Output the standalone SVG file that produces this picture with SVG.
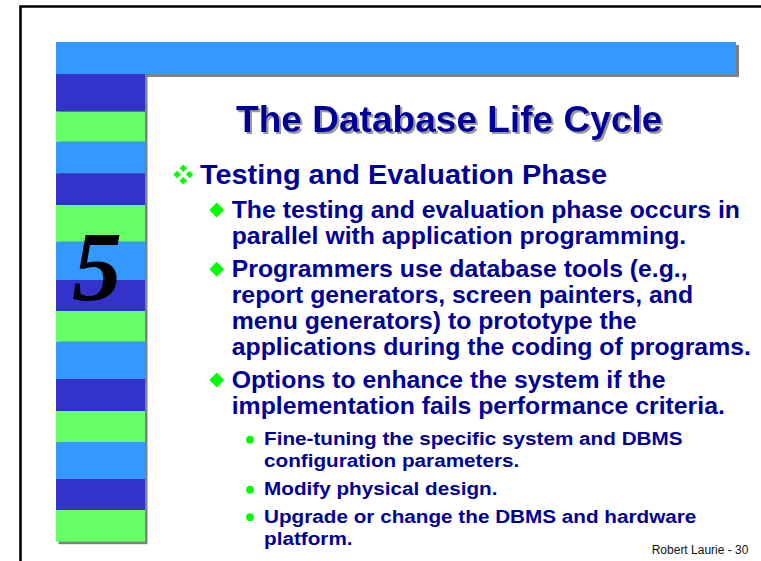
<svg xmlns="http://www.w3.org/2000/svg" width="761" height="561" viewBox="0 0 761 561">
  <defs>
    <style>
      .txt{font-family:"Liberation Sans",Arial,sans-serif;font-weight:bold;fill:#000099}
      .title{font-size:36px}
      .l1{font-size:27px}
      .l2{font-size:23px}
      .l3{font-size:19px}
      .foot{font-family:"Liberation Sans",Arial,sans-serif;font-size:12px;fill:#111}
      .shadow{fill:#808080}
      .bullet{fill:#00FF00}
      .dk{fill:#3333CC}
      .gr{fill:#66FF66}
      .lb{fill:#3399FF}
    </style>
    <!-- grey drop shadow for the title -->
    <filter id="drop" x="-5%" y="-20%" width="110%" height="150%">
      <feOffset in="SourceAlpha" dx="2" dy="2" result="off"/>
      <feFlood flood-color="#999999"/>
      <feComposite in2="off" operator="in" result="sh"/>
      <feMerge>
        <feMergeNode in="sh"/>
        <feMergeNode in="SourceGraphic"/>
      </feMerge>
    </filter>
    <polygon id="diamond" points="0,-7.5 7.3,0 0,7.5 -7.3,0"/>
    <polygon id="minidiamond" points="0,-3.8 3.8,0 0,3.8 -3.8,0"/>
  </defs>

  <rect width="761" height="561" fill="#FFFFFF"/>

  <!-- slide frame -->
  <g id="frame">
    <path d="M20.5,561 V6.5 H761" fill="none" stroke="#000" stroke-width="2.6"/>
  </g>

  <!-- header bar and striped side column, each with a drop shadow -->
  <g id="header-bar">
    <rect class="shadow" x="59" y="45" width="680" height="32"/>
  </g>
  <g id="side-column">
    <rect class="shadow" x="58.5" y="76.5" width="89" height="467.7"/>
    <rect class="dk" x="56" y="74" width="89" height="37.7"/>
    <rect class="gr" x="56" y="111.7" width="89" height="30"/>
    <rect class="lb" x="56" y="141.7" width="89" height="31.6"/>
    <rect class="dk" x="56" y="173.3" width="89" height="31.7"/>
    <rect class="gr" x="56" y="205" width="89" height="36.7"/>
    <rect class="lb" x="56" y="241.7" width="89" height="38.3"/>
    <rect class="dk" x="56" y="280" width="89" height="31"/>
    <rect class="gr" x="56" y="311" width="89" height="30.7"/>
    <rect class="lb" x="56" y="341.7" width="89" height="37.3"/>
    <rect class="dk" x="56" y="379" width="89" height="32"/>
    <rect class="gr" x="56" y="411" width="89" height="31"/>
    <rect class="lb" x="56" y="442" width="89" height="37"/>
    <rect class="dk" x="56" y="479" width="89" height="31"/>
    <rect class="gr" x="56" y="510" width="89" height="31.7"/>
  </g>
  <g id="header-bar-face">
    <rect class="lb" x="56" y="42" width="680" height="32"/>
  </g>

  <!-- chapter numeral -->
  <g id="numeral">
    <text x="72" y="299.5" font-family="'Liberation Serif','Times New Roman',serif" font-weight="bold" font-style="italic" font-size="100" fill="#000">5</text>
  </g>

  <!-- title -->
  <g id="title" filter="url(#drop)">
    <text class="txt title" transform="translate(236 131.7) scale(1.03 1)">The Database Life Cycle</text>
  </g>

  <!-- level 1 -->
  <g id="phase-heading">
    <g class="bullet" transform="translate(183.3 174.5)">
      <use href="#minidiamond" x="0" y="-6.2"/>
      <use href="#minidiamond" x="-6.2" y="0"/>
      <use href="#minidiamond" x="6.2" y="0"/>
      <use href="#minidiamond" x="0" y="6.2"/>
    </g>
    <text class="txt l1" transform="translate(200 184) scale(1.07 1)">Testing and Evaluation Phase</text>
  </g>

  <!-- level 2 points -->
  <g id="point-parallel">
    <use class="bullet" href="#diamond" x="216.7" y="210"/>
    <text class="txt l2" transform="translate(231.7 217.5) scale(1.078 1)">The testing and evaluation phase occurs in</text>
    <text class="txt l2" transform="translate(231.7 243.8) scale(1.078 1)">parallel with application programming.</text>
  </g>
  <g id="point-prototype">
    <use class="bullet" href="#diamond" x="216.7" y="269.2"/>
    <text class="txt l2" transform="translate(231.7 276.7) scale(1.078 1)">Programmers use database tools (e.g.,</text>
    <text class="txt l2" transform="translate(231.7 302.7) scale(1.078 1)">report generators, screen painters, and</text>
    <text class="txt l2" transform="translate(231.7 329) scale(1.078 1)">menu generators) to prototype the</text>
    <text class="txt l2" transform="translate(231.7 355) scale(1.078 1)">applications during the coding of programs.</text>
  </g>
  <g id="point-options">
    <use class="bullet" href="#diamond" x="216.7" y="380"/>
    <text class="txt l2" transform="translate(231.7 387.5) scale(1.078 1)">Options to enhance the system if the</text>
    <text class="txt l2" transform="translate(231.7 414) scale(1.078 1)">implementation fails performance criteria.</text>
  </g>

  <!-- level 3 options -->
  <g id="option-tuning">
    <circle class="bullet" cx="250" cy="439.7" r="3.9"/>
    <text class="txt l3" transform="translate(264 445) scale(1.09 1)">Fine-tuning the specific system and DBMS</text>
    <text class="txt l3" transform="translate(264 467.3) scale(1.09 1)">configuration parameters.</text>
  </g>
  <g id="option-design">
    <circle class="bullet" cx="250" cy="489.7" r="3.9"/>
    <text class="txt l3" transform="translate(264 495) scale(1.09 1)">Modify physical design.</text>
  </g>
  <g id="option-upgrade">
    <circle class="bullet" cx="250" cy="517.2" r="3.9"/>
    <text class="txt l3" transform="translate(264 522.5) scale(1.09 1)">Upgrade or change the DBMS and hardware</text>
    <text class="txt l3" transform="translate(264 545) scale(1.09 1)">platform.</text>
  </g>

  <!-- footer -->
  <g id="footer">
    <text class="foot" x="651.7" y="553.5">Robert Laurie - 30</text>
  </g>
</svg>
